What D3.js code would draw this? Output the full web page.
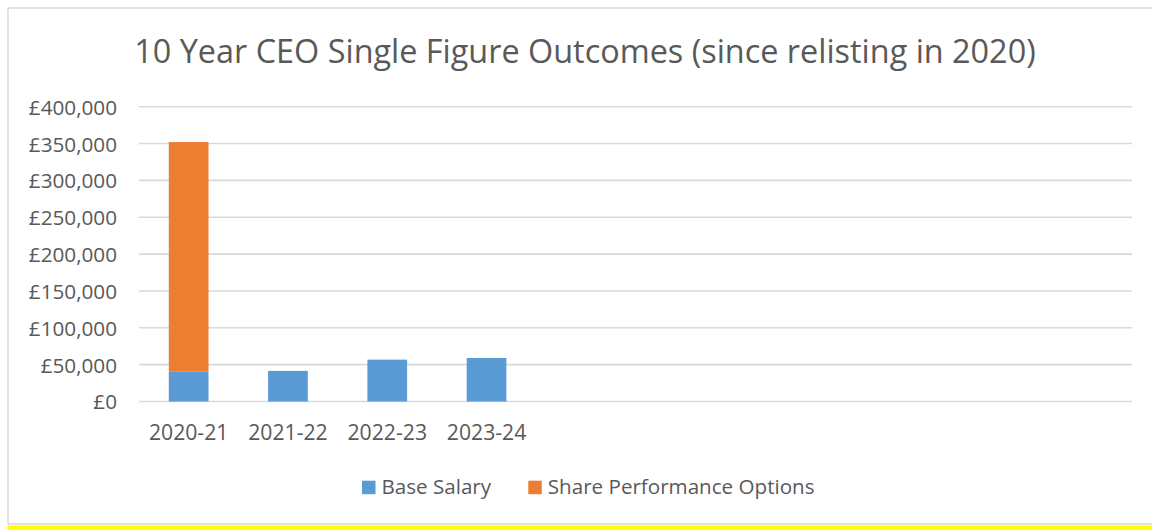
<!DOCTYPE html>
<html><head><meta charset="utf-8">
<script src="https://cdn.jsdelivr.net/npm/d3@7"></script>
<style>html,body{margin:0;padding:0;background:#fff;} svg{display:block;}</style>
</head><body>
<script>
const categories = ["2020-21","2021-22","2022-23","2023-24","c5","c6","c7","c8","c9","c10"];
const categoryLabels = ["2020-21","2021-22","2022-23","2023-24","","","","","",""];
const baseSalary = [41000, 41500, 56800, 59000, null, null, null, null, null, null];
const sharePerformanceOptions = [311000, 0, 0, 0, null, null, null, null, null, null];
const seriesNames = ["Base Salary", "Share Performance Options"];
const seriesColors = ["#5B9BD5", "#ED7D31"];
const yTicks = [0, 50000, 100000, 150000, 200000, 250000, 300000, 350000, 400000];
const titleText = "10 Year CEO Single Figure Outcomes (since relisting in 2020)";

const W = 1152, H = 530;
const svg = d3.select("body").append("svg").attr("width", W).attr("height", H);
const font = "'Open Sans', sans-serif";
const textColor = "#595959";

// frame
svg.append("rect").attr("x", 8).attr("y", 8).attr("width", W + 20).attr("height", 516)
  .attr("fill", "#fff").attr("stroke", "#d9d9d9").attr("stroke-width", 1.5);
svg.append("rect").attr("x", 8).attr("y", 525.5).attr("width", W).attr("height", 5).attr("fill", "#ffff00");

const x = d3.scaleBand().domain(categories).range([139, 1132]).paddingInner(0.6).paddingOuter(0.3);
const y = d3.scaleLinear().domain([0, 400000]).range([401.5, 106.7]);

// gridlines
svg.append("g").selectAll("line").data(yTicks).join("line")
  .attr("x1", 139).attr("x2", 1132)
  .attr("y1", d => y(d)).attr("y2", d => y(d))
  .attr("stroke", "#d9d9d9").attr("stroke-width", 1.6);

// y axis labels
const yAxis = d3.axisLeft(y).tickValues(yTicks).tickSize(0).tickPadding(0)
  .tickFormat(d => "£" + d3.format(",")(d));
const gy = svg.append("g").attr("transform", "translate(117,0)").call(yAxis);
gy.select(".domain").remove();
gy.selectAll("text").attr("font-family", font).attr("font-size", 20.7).attr("fill", textColor).attr("dy", "0.36em");

// x axis labels
const xAxis = d3.axisBottom(x).tickSize(0).tickPadding(0).tickFormat((d, i) => categoryLabels[i]);
const gx = svg.append("g").attr("transform", "translate(0,401.5)").call(xAxis);
gx.select(".domain").remove();
gx.selectAll("text").attr("font-family", font).attr("font-size", 21.2).attr("fill", textColor)
  .attr("dy", 0).attr("y", 38.5);

// stacked bars
const rows = categories.map((c, i) => ({cat: c, base: baseSalary[i] || 0, share: sharePerformanceOptions[i] || 0}));
const stack = d3.stack().keys(["base", "share"])(rows);
svg.append("g").selectAll("g").data(stack).join("g")
  .attr("fill", (d, i) => seriesColors[i])
  .selectAll("rect").data(d => d.filter(p => p[1] - p[0] > 0)).join("rect")
  .attr("x", d => x(d.data.cat))
  .attr("width", x.bandwidth())
  .attr("y", d => y(d[1]))
  .attr("height", d => y(d[0]) - y(d[1]));

// title
svg.append("text").attr("x", 585).attr("y", 63.3).attr("text-anchor", "middle")
  .attr("font-family", font).attr("font-size", 32.4).attr("fill", textColor).text(titleText);

// legend
const legend = svg.append("g");
const legX = [362, 528.3];
seriesNames.forEach((n, i) => {
  legend.append("rect").attr("x", legX[i]).attr("y", 480.7).attr("width", 13.5).attr("height", 13.5).attr("fill", seriesColors[i]);
  legend.append("text").attr("x", legX[i] + 19.5).attr("y", 493.8).attr("font-family", font)
    .attr("font-size", 20.6).attr("fill", textColor).text(n);
});
</script>
</body></html>
